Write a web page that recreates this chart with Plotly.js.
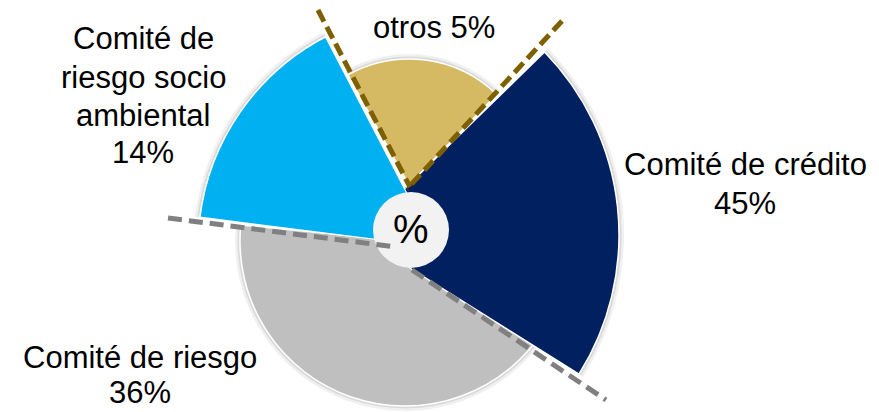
<!DOCTYPE html>
<html>
<head>
<meta charset="utf-8">
<script src="https://cdn.plot.ly/plotly-3.0.1.min.js"></script>
<style>
  html, body { margin: 0; padding: 0; background: #ffffff; }
  #chart { width: 879px; height: 412px; }
</style>
</head>
<body>
<div id="chart"></div>
<script>
// ---------------- data ----------------
const categories = ['Comité de crédito', 'Comité de riesgo', 'Comité de riesgo socio ambiental', 'otros'];
const shares = [45, 36, 14, 5];

// ---------------- slice geometry ----------------
// apex position (px), radius (px), start/end angle (degrees clockwise from north)
const apexX = [357, 405, 435, 409];
const apexY = [235, 241, 247, 185];
const sliceRadius = [262, 165, 237, 126];
const sliceHole = [60, 0, 0, 0];
const sliceStart = [45.7, 122, 277.2, 331];
const sliceEnd = [122.1, 275.6, 332.5, 44.1];
const sliceColors = ['#002060', '#bfbfbf', '#00b0f0', '#d6ba63'];
const drawOrder = [1, 0, 2, 3];

const W = 879, H = 412;
const FONT = 'Liberation Sans, Arial, sans-serif';

function sectorBBox(s0, s1) {
  const pts = [[0, 0]];
  const add = a => pts.push([Math.cos(a * Math.PI / 180), Math.sin(a * Math.PI / 180)]);
  add(s0); add(s1);
  for (let k = Math.ceil(s0 / 90) * 90; k < s1; k += 90) add(k);
  const xs = pts.map(p => p[0]), ys = pts.map(p => p[1]);
  return [Math.min(...xs), Math.min(...ys), Math.max(...xs), Math.max(...ys)];
}
const clamp = v => Math.max(0, Math.min(1, v));

const traces = [];
const layout = {
  width: W, height: H,
  margin: {l: 0, r: 0, t: 0, b: 0},
  paper_bgcolor: '#ffffff',
  showlegend: false,
  annotations: [],
  shapes: []
};

drawOrder.forEach((i, k) => {
  const id = 'polar' + (k ? k + 1 : '');
  const span = ((sliceEnd[i] - sliceStart[i]) % 360 + 360) % 360;
  const center = sliceStart[i] + span / 2;
  const ms = 90 - sliceStart[i] - span - 0.5;
  const me = ms + span + 1;
  const R = sliceRadius[i] + 6;
  const hole = sliceHole[i];
  const b = sectorBBox(ms, me);
  const cx = apexX[i], cy = apexY[i];
  layout[id] = {
    domain: {
      x: [clamp((cx + R * b[0]) / W), clamp((cx + R * b[2]) / W)],
      y: [clamp((H - cy + R * b[1]) / H), clamp((H - cy + R * b[3]) / H)]
    },
    sector: [ms, me],
    hole: hole / R,
    bgcolor: 'rgba(0,0,0,0)',
    barmode: 'overlay',
    radialaxis: {range: [hole, R], visible: false},
    angularaxis: {rotation: 90, direction: 'clockwise', visible: false}
  };
  // soft shadow rings
  [[5, 'rgba(0,0,0,0.06)'], [2.5, 'rgba(0,0,0,0.09)']].forEach(([d, c]) => {
    traces.push({
      type: 'barpolar', subplot: id,
      base: [hole], r: [sliceRadius[i] + d - hole], theta: [center], width: [span],
      marker: {color: c, line: {width: 0}}, hoverinfo: 'skip'
    });
  });
  traces.push({
    type: 'barpolar', subplot: id, name: categories[i],
    base: [hole], r: [sliceRadius[i] - hole], theta: [center], width: [span],
    marker: {color: sliceColors[i], line: {color: '#ffffff', width: 1.5}},
    hoverinfo: 'skip'
  });
});

// centre disc
const px = x => x / W, py = y => 1 - y / H;
layout.shapes.push({
  type: 'circle', xref: 'paper', yref: 'paper',
  xsizemode: 'pixel', ysizemode: 'pixel',
  xanchor: px(411), yanchor: py(230),
  x0: -38, x1: 38, y0: -38, y1: 38,
  fillcolor: '#f2f2f2', line: {width: 0}
});

// dashed separators
const separators = [
  {x0: 318, y0: 10, x1: 410, y1: 187, color: '#7f6000', dash: '13px,6px'},
  {x0: 562, y0: 21, x1: 407, y1: 189, color: '#7f6000', dash: '13px,6px'},
  {x0: 168, y0: 218, x1: 396, y1: 247, color: '#808080', dash: '14px,7px'},
  {x0: 412, y0: 270, x1: 606, y1: 400, color: '#808080', dash: '14px,7px'}
];
separators.forEach(s => {
  layout.shapes.push({
    type: 'line', xref: 'paper', yref: 'paper',
    x0: px(s.x0), y0: py(s.y0), x1: px(s.x1), y1: py(s.y1),
    line: {color: s.color, width: 5, dash: s.dash}
  });
});

// labels
const labelLines = [
  [categories[0], shares[0] + '%'],
  [categories[1], shares[1] + '%'],
  ['Comité de', 'riesgo socio', 'ambiental', shares[2] + '%'],
  [categories[3] + ' ' + shares[3] + '%']
];
const labelX = [745, 140, 143, 434];
const labelTop = [165, 357, 39, 28];
const labelStep = [38, 35, 38, 38];
labelLines.forEach((lines, i) => {
  lines.forEach((t, j) => {
    layout.annotations.push({
      text: t, xref: 'paper', yref: 'paper',
      x: px(labelX[i]), y: py(labelTop[i] + j * labelStep[i]),
      xanchor: 'center', yanchor: 'middle', showarrow: false,
      font: {family: FONT, size: 31, color: '#000000'}
    });
  });
});
layout.annotations.push({
  text: '%', xref: 'paper', yref: 'paper',
  x: px(411), y: py(229), xanchor: 'center', yanchor: 'middle', showarrow: false,
  font: {family: FONT, size: 40, color: '#000000'}
});

Plotly.newPlot('chart', traces, layout, {staticPlot: true, displayModeBar: false});
</script>
</body>
</html>
